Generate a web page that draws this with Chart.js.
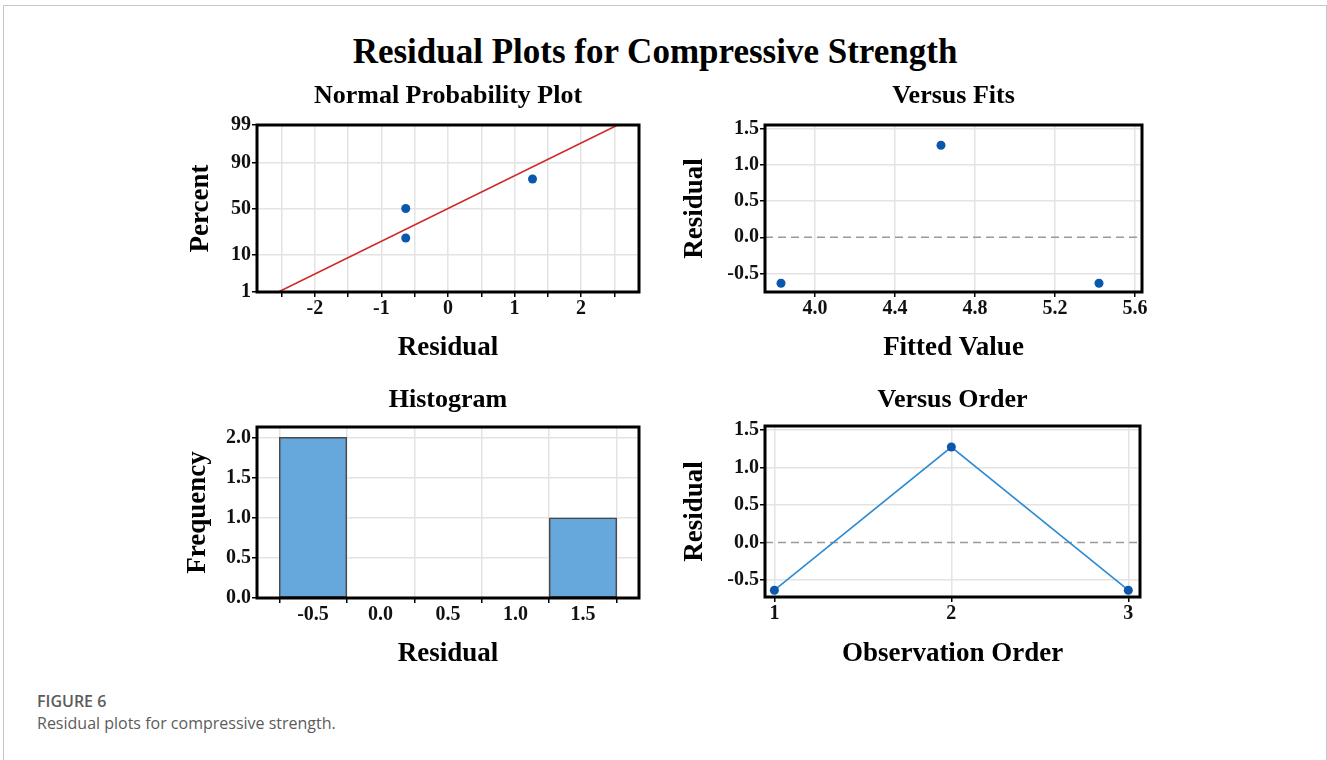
<!DOCTYPE html>
<html lang="en">
<head>
<meta charset="UTF-8">
<title>Residual Plots for Compressive Strength</title>
<script src="https://cdn.jsdelivr.net/npm/chart.js"></script>
<style>
  html, body { margin: 0; padding: 0; background: #fff; overflow: hidden; }
  body { width: 1327px; height: 760px; position: relative; }
  .frame { position: absolute; left: 3px; top: 5px; width: 1322px; height: 800px; border: 1px solid #c6c6c6; }
  .main-title { position: absolute; left: 0; width: 1310px; top: 32px; text-align: center;
    font-family: "Liberation Serif", serif; font-weight: bold; font-size: 35px; line-height: 40px; color: #000; }
  canvas { position: absolute; }
  .fig-label { position: absolute; left: 37px; top: 691px; font-family: "Open Sans", sans-serif;
    font-weight: 600; font-size: 16px; line-height: 20px; color: #5c5c5c; }
  .fig-caption { position: absolute; left: 37px; top: 713px; font-family: "Open Sans", sans-serif;
    font-size: 16px; line-height: 20px; color: #5c5c5c; }
</style>
</head>
<body>
<div class="frame"></div>
<div class="main-title">Residual Plots for Compressive Strength</div>
<canvas id="npp" width="474" height="293" style="left:180px;top:75px"></canvas>
<canvas id="fits" width="479" height="293" style="left:678px;top:75px"></canvas>
<canvas id="hist" width="474" height="296" style="left:180px;top:378px"></canvas>
<canvas id="order" width="477" height="296" style="left:678px;top:378px"></canvas>
<div class="fig-label">FIGURE 6</div>
<div class="fig-caption">Residual plots for compressive strength.</div>

<script>
// residuals by observation order
const observation = [1, 2, 3];
const residuals = [-0.635, 1.27, -0.635];
const fittedValues = [3.83, 4.63, 5.42];

// normal probability plot (sorted residuals vs median-rank percent)
const nppResiduals = [-0.635, -0.635, 1.27];
const nppPercent = [20.6, 50, 79.4];
const fitLineResidual = [-2.55, 2.55];
const fitLinePercent = [1, 99];

// histogram bins
const binCenters = [-0.5, 0.0, 0.5, 1.0, 1.5];
const binCounts = [2, 0, 0, 0, 1];

// tick values
const nppXTicks = [-2.5, -2, -1.5, -1, -0.5, 0, 0.5, 1, 1.5, 2, 2.5];
const nppYTicks = [1, 10, 50, 90, 99];
const fitsXTicks = [4.0, 4.4, 4.8, 5.2, 5.6];
const residTicks = [-0.5, 0.0, 0.5, 1.0, 1.5];
const histXTicks = [-0.5, 0.0, 0.5, 1.0, 1.5];
const histYTicks = [0.0, 0.5, 1.0, 1.5, 2.0];
const orderTicks = [1, 2, 3];

const SERIF = '"Liberation Serif", "Times New Roman", serif';
const POINT_BLUE = '#0b57ad';
const GRID = '#e3e3e3';

// inverse standard normal cdf (Acklam), used for the probability axis
function normInv(p) {
    const a = [-39.6968302866538, 220.946098424521, -275.928510446969, 138.357751867269, -30.6647980661472, 2.50662827745924];
    const b = [-54.4760987982241, 161.585836858041, -155.698979859887, 66.8013118877197, -13.2806815528857];
    const c = [-0.00778489400243029, -0.322396458041136, -2.40075827716184, -2.54973253934373, 4.37466414146497, 2.93816398269878];
    const d = [0.00778469570904146, 0.32246712907004, 2.445134137143, 3.75440866190742];
    const pl = 0.02425;
    let q, r;
    if (p < pl) {
        q = Math.sqrt(-2 * Math.log(p));
        return (((((c[0]*q+c[1])*q+c[2])*q+c[3])*q+c[4])*q+c[5]) / ((((d[0]*q+d[1])*q+d[2])*q+d[3])*q+1);
    }
    if (p > 1 - pl) {
        q = Math.sqrt(-2 * Math.log(1 - p));
        return -(((((c[0]*q+c[1])*q+c[2])*q+c[3])*q+c[4])*q+c[5]) / ((((d[0]*q+d[1])*q+d[2])*q+d[3])*q+1);
    }
    q = p - 0.5;
    r = q * q;
    return (((((a[0]*r+a[1])*r+a[2])*r+a[3])*r+a[4])*r+a[5])*q / (((((b[0]*r+b[1])*r+b[2])*r+b[3])*r+b[4])*r+1);
}
const pctToZ = pct => normInv(pct / 100);

// thick black box round the plot area
const framePlugin = {
    id: 'frame',
    afterDraw(chart) {
        const { ctx, chartArea: a } = chart;
        ctx.save();
        ctx.strokeStyle = '#000';
        ctx.lineWidth = 3;
        ctx.strokeRect(a.left, a.top, a.right - a.left, a.bottom - a.top);
        ctx.restore();
    }
};

// dashed reference line at residual 0
const zeroPlugin = {
    id: 'zeroLine',
    beforeDatasetsDraw(chart) {
        const { ctx, chartArea: a, scales } = chart;
        const y = scales.y.getPixelForValue(0);
        ctx.save();
        ctx.strokeStyle = '#9a9a9a';
        ctx.lineWidth = 1.5;
        ctx.setLineDash([8, 5]);
        ctx.beginPath();
        ctx.moveTo(a.left, y);
        ctx.lineTo(a.right, y);
        ctx.stroke();
        ctx.restore();
    }
};

function tickFont() {
    return { family: SERIF, size: 20, weight: 'bold' };
}

function titleOpts(text, top, bottom) {
    return {
        display: true,
        text: text,
        fullSize: false,
        color: '#000',
        font: { family: SERIF, size: 26, weight: 'bold', lineHeight: 1.2 },
        padding: { top: top, bottom: bottom }
    };
}

function xScale(min, max, ticks, title, height, fmt, gridColor) {
    return {
        type: 'linear',
        min: min,
        max: max,
        afterBuildTicks: s => { s.ticks = ticks.map(v => ({ value: v })); },
        afterFit: s => { s.height = height; },
        grid: { color: gridColor || GRID, lineWidth: 1.5, tickColor: '#000', tickLength: 5, tickWidth: 1.5 },
        border: { display: false },
        ticks: { color: '#111', font: tickFont(), padding: 0, maxRotation: 0, autoSkip: false, callback: fmt },
        title: { display: true, text: title, color: '#000', font: { family: SERIF, size: 27, weight: 'bold', lineHeight: 1.2 }, padding: { top: 0, bottom: 3.8 } }
    };
}

function yScale(min, max, ticks, title, width, pad, fmt, gridColor) {
    return {
        type: 'linear',
        min: min,
        max: max,
        afterBuildTicks: s => { s.ticks = ticks.map(v => ({ value: v })); },
        afterFit: s => { s.width = width; },
        grid: { color: gridColor || GRID, lineWidth: 1.5, tickColor: '#000', tickLength: 5, tickWidth: 1.5 },
        border: { display: false },
        ticks: { color: '#111', font: tickFont(), padding: 1, autoSkip: false, callback: fmt },
        title: { display: true, text: title, color: '#000', font: { family: SERIF, size: 27, weight: 'bold', lineHeight: 1.2 }, padding: { top: pad, bottom: 0 } }
    };
}

const oneDec = v => Number(v).toFixed(1);
const hideZeroGrid = ctx => (ctx.tick && ctx.tick.value === 0 ? 'rgba(0,0,0,0)' : GRID);

function baseOptions() {
    return {
        responsive: false,
        animation: false,
        layout: { padding: { left: 0, right: 15, top: 0, bottom: 0 } },
        plugins: { legend: { display: false }, tooltip: { enabled: false } }
    };
}

// Normal Probability Plot
const nppOpts = baseOptions();
nppOpts.plugins.title = titleOpts('Normal Probability Plot', 5.4, 13.4);
nppOpts.scales = {
    x: xScale(-2.87, 2.87, nppXTicks, 'Residual', 76, v => (Number.isInteger(v) ? String(v) : '')),
    y: yScale(pctToZ(1), pctToZ(99), nppYTicks.map(pctToZ), 'Percent', 77, 4.8,
        (v, i) => String(nppYTicks[i]))
};
new Chart(document.getElementById('npp').getContext('2d'), {
    type: 'scatter',
    data: {
        datasets: [{
            type: 'line',
            data: fitLineResidual.map((x, i) => ({ x: x, y: pctToZ(fitLinePercent[i]) })),
            borderColor: '#cf2a2a',
            borderWidth: 1.6,
            pointRadius: 0
        }, {
            data: nppResiduals.map((x, i) => ({ x: x, y: pctToZ(nppPercent[i]) })),
            backgroundColor: POINT_BLUE,
            borderWidth: 0,
            pointRadius: 4.5
        }]
    },
    options: nppOpts,
    plugins: [framePlugin]
});

// Versus Fits
const fitsOpts = baseOptions();
fitsOpts.plugins.title = titleOpts('Versus Fits', 5.4, 13.4);
fitsOpts.scales = {
    x: xScale(3.75, 5.635, fitsXTicks, 'Fitted Value', 76, oneDec),
    y: yScale(-0.755, 1.55, residTicks, 'Residual', 87, 0.8, oneDec, hideZeroGrid)
};
new Chart(document.getElementById('fits').getContext('2d'), {
    type: 'scatter',
    data: {
        datasets: [{
            data: fittedValues.map((x, i) => ({ x: x, y: residuals[i] })),
            backgroundColor: POINT_BLUE,
            borderWidth: 0,
            pointRadius: 4.5
        }]
    },
    options: fitsOpts,
    plugins: [zeroPlugin, framePlugin]
});

// Histogram
const histOpts = baseOptions();
histOpts.plugins.title = titleOpts('Histogram', 6.4, 11.4);
histOpts.scales = {
    x: xScale(-0.915, 1.915, histXTicks, 'Residual', 76, oneDec),
    y: yScale(0, 2.13, histYTicks, 'Frequency', 77, 1.8, oneDec)
};
histOpts.scales.x.offset = false;
new Chart(document.getElementById('hist').getContext('2d'), {
    type: 'bar',
    data: {
        datasets: [{
            data: binCenters.map((x, i) => ({ x: x, y: binCounts[i] })),
            backgroundColor: '#66a7dc',
            borderColor: '#4a4a4a',
            borderWidth: 1.5,
            borderSkipped: false,
            barPercentage: 1,
            categoryPercentage: 1
        }]
    },
    options: histOpts,
    plugins: [framePlugin]
});

// Versus Order
const orderOpts = baseOptions();
orderOpts.plugins.title = titleOpts('Versus Order', 6.4, 10.4);
orderOpts.scales = {
    x: xScale(0.947, 3.066, orderTicks, 'Observation Order', 77, v => String(v)),
    y: yScale(-0.725, 1.55, residTicks, 'Residual', 87, 0.8, oneDec, hideZeroGrid)
};
new Chart(document.getElementById('order').getContext('2d'), {
    type: 'scatter',
    data: {
        datasets: [{
            type: 'line',
            data: observation.map((x, i) => ({ x: x, y: residuals[i] })),
            borderColor: '#2b8bd3',
            borderWidth: 1.6,
            backgroundColor: POINT_BLUE,
            pointBackgroundColor: POINT_BLUE,
            pointBorderWidth: 0,
            pointRadius: 4.5
        }]
    },
    options: orderOpts,
    plugins: [zeroPlugin, framePlugin]
});
</script>
</body>
</html>
